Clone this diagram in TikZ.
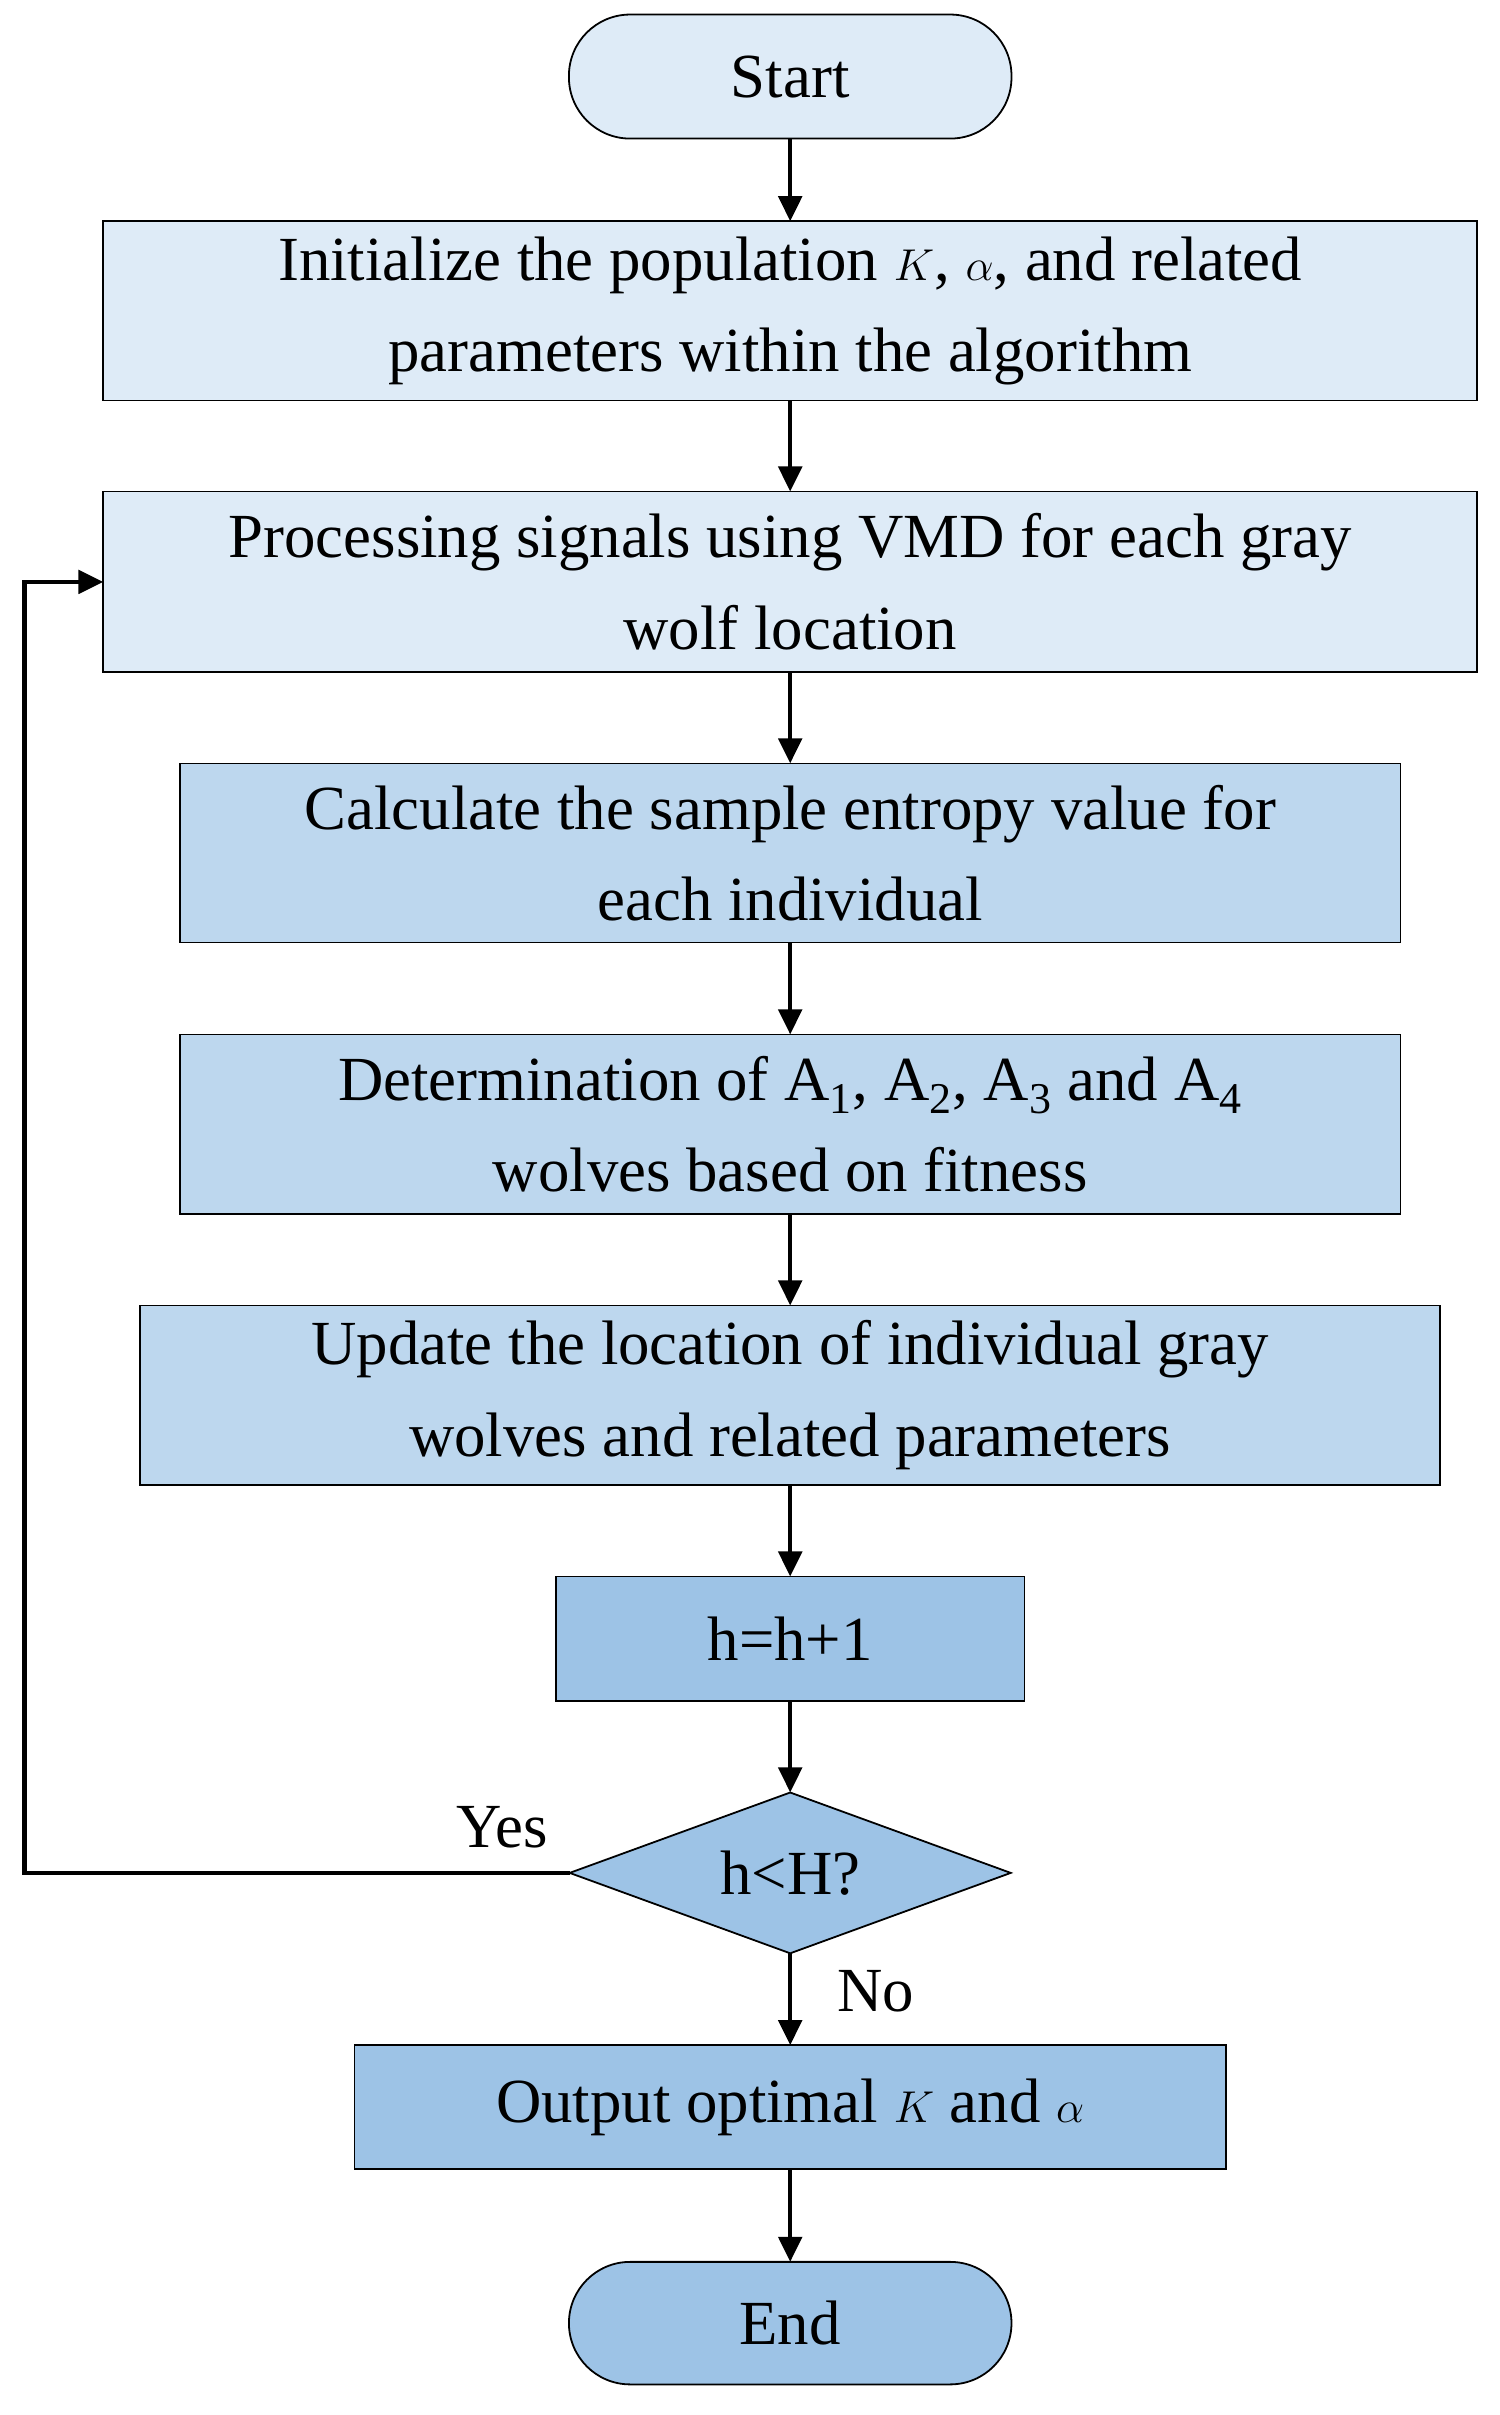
\documentclass[tikz,border=0pt]{standalone}
\usepackage{fontspec}
\setmainfont{Liberation Serif}
\usetikzlibrary{shapes.geometric,arrows.meta}
\definecolor{cA}{HTML}{DEEBF7}
\definecolor{cB}{HTML}{BDD7EE}
\definecolor{cC}{HTML}{9DC3E6}
\begin{document}
\begin{tikzpicture}[x=0.03cm,y=-0.03cm,
  every node/.style={font=\fontsize{35}{51}\selectfont,align=center,inner sep=0pt,outer sep=0pt},
  box/.style={draw,line width=1pt,rectangle},
  term/.style={draw,line width=1pt,rectangle,rounded corners=1.2cm},
  ar/.style={line width=2.5pt,-{Triangle[length=14pt,width=13pt]}}]
\useasboundingbox (0,0) rectangle (979,1577);
\node[term,fill=cA,minimum width=289*0.03cm,minimum height=81*0.03cm] (s) at (516,50) {Start};
\node[box,fill=cA,minimum width=897*0.03cm,minimum height=117*0.03cm] (i) at (516,203) {Initialize the population $K$, $\alpha$, and related\\parameters within the algorithm};
\node[box,fill=cA,minimum width=897*0.03cm,minimum height=118*0.03cm] (p) at (516,380) {Processing signals using VMD for each gray\\wolf location};
\node[box,fill=cB,minimum width=797*0.03cm,minimum height=117*0.03cm] (c) at (516,557) {Calculate the sample entropy value for\\each individual};
\node[box,fill=cB,minimum width=797*0.03cm,minimum height=117*0.03cm] (d) at (516,734) {Determination of A\textsubscript{1}, A\textsubscript{2}, A\textsubscript{3} and A\textsubscript{4}\\wolves based on fitness};
\node[box,fill=cB,minimum width=849*0.03cm,minimum height=117*0.03cm] (u) at (516,911) {Update the location of individual gray\\wolves and related parameters};
\node[box,fill=cC,minimum width=306*0.03cm,minimum height=81*0.03cm] (h) at (516,1070) {h=h+1};
\node[draw,line width=1pt,diamond,aspect=2.75,fill=cC,minimum width=288*0.03cm,minimum height=105*0.03cm] (q) at (516,1223) {h<H?};
\node[box,fill=cC,minimum width=569*0.03cm,minimum height=81*0.03cm] (o) at (516,1376) {Output optimal $K$ and $\alpha$};
\node[term,fill=cC,minimum width=289*0.03cm,minimum height=80*0.03cm] (e) at (516,1517) {End};
\draw[ar] (s) -- (i);
\draw[ar] (i) -- (p);
\draw[ar] (p) -- (c);
\draw[ar] (c) -- (d);
\draw[ar] (d) -- (u);
\draw[ar] (u) -- (h);
\draw[ar] (h) -- (q);
\draw[ar] (q) -- (o);
\draw[ar] (o) -- (e);
\coordinate (l1) at (16,1223);
\coordinate (l2) at (16,380);
\draw[ar] (q.west) -- (l1) -- (l2) -- (p.west);
\node (yes) at (328,1193) {Yes};
\node (no) at (572,1300) {No};
\end{tikzpicture}
\end{document}
